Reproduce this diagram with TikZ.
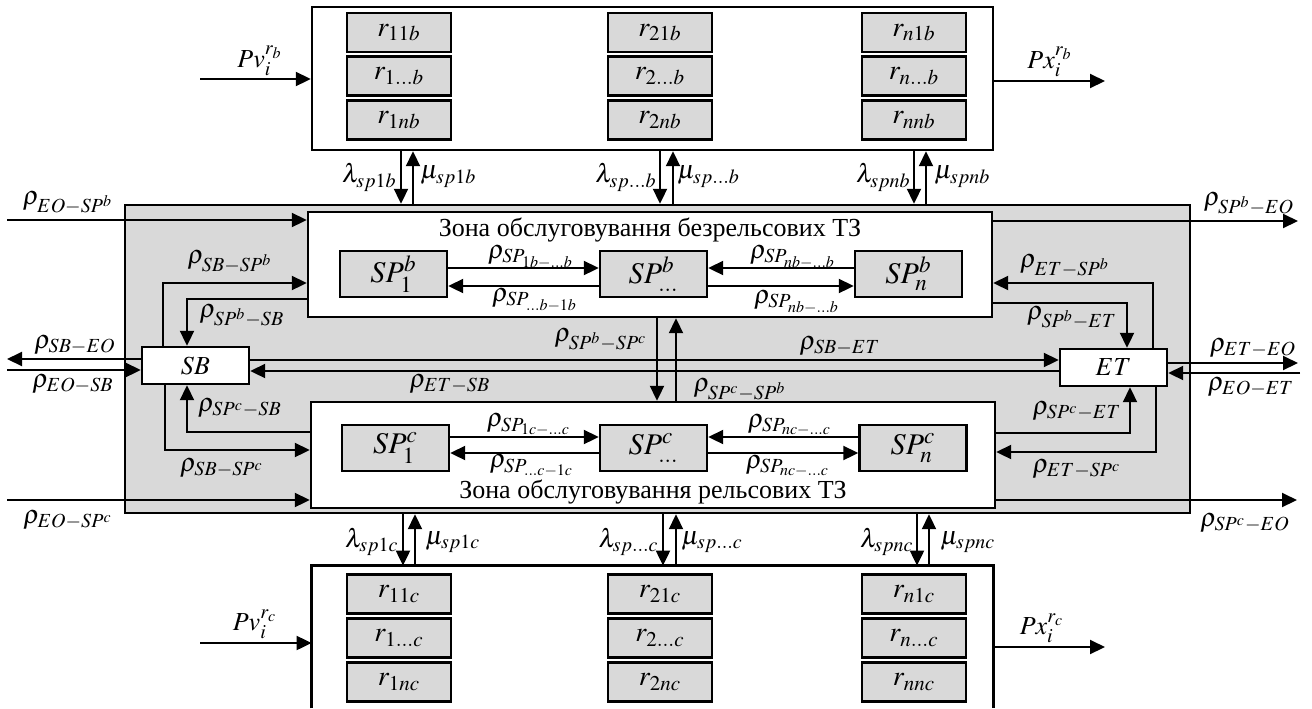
\documentclass[tikz,border=0pt]{standalone}
\usepackage{mathptmx}
\usepackage{fontspec}
\setmainfont{Liberation Serif}
\usetikzlibrary{arrows.meta,fit,calc}
\DeclareMathSizes{13}{13}{10}{8}
\DeclareMathSizes{14}{14}{10.5}{8}
\DeclareMathSizes{15}{15}{11.5}{9}
\definecolor{boxgray}{RGB}{217,217,217}
\tikzset{
  arr/.style={-{Triangle[length=7.5pt,width=7pt]}, line width=1pt},
  bigbox/.style={draw, line width=1.2pt, inner sep=0pt},
  rbox/.style={draw, line width=1.2pt, fill=boxgray, minimum width=52pt, minimum height=19.5pt, inner sep=0pt, font=\fontsize{14}{16}\selectfont},
  spbox/.style={draw, line width=1.2pt, fill=boxgray, minimum width=53.5pt, minimum height=23pt, inner sep=0pt, font=\fontsize{15}{17}\selectfont},
  wbox/.style={draw, line width=1.2pt, fill=white, minimum width=53.5pt, minimum height=18.5pt, inner sep=0pt, font=\fontsize{13}{15}\selectfont},
  lbl/.style={inner sep=0pt, font=\fontsize{13}{15}\selectfont},
}
\begin{document}
\begin{tikzpicture}[x=0.5pt,y=-0.5pt]
\useasboundingbox (0,0) rectangle (1312,708);
% top resource box
\node[bigbox, fit={(312,7)(993,150)}] (rb) {};
\foreach \c/\x in {1/399,2/660,n/914}{
  \node[rbox] (rb\c1) at (\x,32.5) {$r_{\c1b}$};
  \node[rbox] (rb\c m) at (\x,76) {$r_{\c\ldots b}$};
  \node[rbox] (rb\c n) at (\x,120) {$r_{\c nb}$};
}
% bottom resource box (open at bottom)
\node[inner sep=0pt, fit={(312,566)(993,708)}] (rc) {};
\draw[line width=1.2pt] (rc.south west) -- (rc.north west) -- (rc.north east) -- (rc.south east);
\foreach \c/\x in {1/399,2/660,n/914}{
  \node[rbox] (rc\c1) at (\x,594) {$r_{\c1c}$};
  \node[rbox] (rc\c m) at (\x,638) {$r_{\c\ldots c}$};
  \node[rbox] (rc\c n) at (\x,682) {$r_{\c nc}$};
}
% gray area
\node[bigbox, fill=boxgray, fit={(125,205)(1190,513)}] (gray) {};
% zones
\node[bigbox, fill=white, fit={(308,212)(992,317)}] (zb) {};
\node[bigbox, fill=white, fit={(311,402)(995,508)}] (zc) {};
\node[lbl] (zbt) at (650,230) {Зона обслуговування безрельсових ТЗ};
\node[lbl] (zct) at (653,492) {Зона обслуговування рельсових ТЗ};
% SP boxes
\node[spbox] (sp1b) at (393.5,274) {$SP_1^b$};
\node[spbox] (spmb) at (653.5,274) {$SP_{\ldots}^b$};
\node[spbox] (spnb) at (908.5,274) {$SP_n^b$};
\node[spbox] (sp1c) at (395.5,448) {$SP_1^c$};
\node[spbox] (spmc) at (653.5,448) {$SP_{\ldots}^c$};
\node[spbox] (spnc) at (913,448) {$SP_n^c$};
% SB, ET
\node[wbox] (sb) at (195.5,365.5) {$SB$};
\node[wbox] (et) at (1113.5,367.5) {$ET$};

% Pv / Px arrows
\coordinate (pvb) at (200,79);
\draw[arr] (pvb) -- (rb.west |- pvb);
\coordinate (pxb) at (1105,81);
\draw[arr] (rb.east |- pxb) -- (pxb);
\coordinate (pvc) at (200,643);
\draw[arr] (pvc) -- (rc.west |- pvc);
\coordinate (pxc) at (1105,647);
\draw[arr] (rc.east |- pxc) -- (pxc);
\node[lbl] at (260,61) {$Pv_i^{r_b}$};
\node[lbl] at (1050,62) {$Px_i^{r_b}$};
\node[lbl] at (255,624) {$Pv_i^{r_c}$};
\node[lbl] at (1042,628) {$Px_i^{r_c}$};

% lambda / mu top
\draw[arr] (rb.south -| 401,0) -- (gray.north -| 401,0);
\draw[arr] (gray.north -| 413,0) -- (rb.south -| 413,0);
\draw[arr] (rb.south -| 660,0) -- (gray.north -| 660,0);
\draw[arr] (gray.north -| 673,0) -- (rb.south -| 673,0);
\draw[arr] (rb.south -| 914,0) -- (gray.north -| 914,0);
\draw[arr] (gray.north -| 926,0) -- (rb.south -| 926,0);
\node[lbl, anchor=east] at (397,177) {$\lambda_{sp1b}$};
\node[lbl, anchor=west] at (420,177) {$\mu_{sp1b}$};
\node[lbl, anchor=east] at (657,177) {$\lambda_{sp\ldots b}$};
\node[lbl, anchor=west] at (677,177) {$\mu_{sp\ldots b}$};
\node[lbl, anchor=east] at (911,177) {$\lambda_{spnb}$};
\node[lbl, anchor=west] at (934,177) {$\mu_{spnb}$};
% lambda / mu bottom
\draw[arr] (gray.south -| 403,0) -- (rc.north -| 403,0);
\draw[arr] (rc.north -| 415,0) -- (gray.south -| 415,0);
\draw[arr] (gray.south -| 663,0) -- (rc.north -| 663,0);
\draw[arr] (rc.north -| 676,0) -- (gray.south -| 676,0);
\draw[arr] (gray.south -| 917,0) -- (rc.north -| 917,0);
\draw[arr] (rc.north -| 929,0) -- (gray.south -| 929,0);
\node[lbl, anchor=east] at (399,542) {$\lambda_{sp1c}$};
\node[lbl, anchor=west] at (425,542) {$\mu_{sp1c}$};
\node[lbl, anchor=east] at (659,542) {$\lambda_{sp\ldots c}$};
\node[lbl, anchor=west] at (681,542) {$\mu_{sp\ldots c}$};
\node[lbl, anchor=east] at (914,542) {$\lambda_{spnc}$};
\node[lbl, anchor=west] at (940,542) {$\mu_{spnc}$};

% SP internal arrows
\draw[arr] (sp1b.east |- 0,268) -- (spmb.west |- 0,268);
\draw[arr] (spmb.west |- 0,286) -- (sp1b.east |- 0,286);
\draw[arr] (spnb.west |- 0,268) -- (spmb.east |- 0,268);
\draw[arr] (spmb.east |- 0,286) -- (spnb.west |- 0,286);
\draw[arr] (sp1c.east |- 0,437) -- (spmc.west |- 0,437);
\draw[arr] (spmc.west |- 0,453) -- (sp1c.east |- 0,453);
\draw[arr] (spnc.west |- 0,437) -- (spmc.east |- 0,437);
\draw[arr] (spmc.east |- 0,453) -- (spnc.west |- 0,453);
\node[lbl] at (531,257) {$\rho_{SP_{1b-\ldots b}}$};
\node[lbl] at (535,300) {$\rho_{SP_{\ldots b-1b}}$};
\node[lbl] at (793,257) {$\rho_{SP_{nb-\ldots b}}$};
\node[lbl] at (797,302) {$\rho_{SP_{nb-\ldots b}}$};
\node[lbl] at (529,425) {$\rho_{SP_{1c-\ldots c}}$};
\node[lbl] at (532,466) {$\rho_{SP_{\ldots c-1c}}$};
\node[lbl] at (790,425) {$\rho_{SP_{nc-\ldots c}}$};
\node[lbl] at (788,466) {$\rho_{SP_{nc-\ldots c}}$};

% external flows
\coordinate (eospb) at (7,220);
\draw[arr] (eospb) -- (zb.west |- eospb);
\coordinate (spbeo) at (1298,221);
\draw[arr] (zb.east |- spbeo) -- (spbeo);
\coordinate (eospc) at (7,500);
\draw[arr] (eospc) -- (zc.west |- eospc);
\coordinate (spceo) at (1297,500);
\draw[arr] (zc.east |- spceo) -- (spceo);
\coordinate (sbeo) at (7,359);
\draw[arr] (sb.west |- sbeo) -- (sbeo);
\coordinate (eosb) at (7,370);
\draw[arr] (eosb) -- (sb.west |- eosb);
\coordinate (eteo) at (1298,363);
\draw[arr] (et.east |- eteo) -- (eteo);
\coordinate (eoet) at (1300,373);
\draw[arr] (eoet) -- (et.east |- eoet);
\node[lbl] at (68,203) {$\rho_{EO-SP^b}$};
\node[lbl] at (1249,204) {$\rho_{SP^b-EO}$};
\node[lbl] at (68,520) {$\rho_{EO-SP^c}$};
\node[lbl] at (1245,523) {$\rho_{SP^c-EO}$};
\node[lbl] at (75,345) {$\rho_{SB-EO}$};
\node[lbl] at (73,384) {$\rho_{EO-SB}$};
\node[lbl] at (1253,348) {$\rho_{ET-EO}$};
\node[lbl] at (1251,387) {$\rho_{EO-ET}$};

% SB <-> ET
\draw[arr] (sb.east |- 0,360) -- (et.west |- 0,360);
\draw[arr] (et.west |- 0,371) -- (sb.east |- 0,371);
\node[lbl] at (840,346) {$\rho_{SB-ET}$};
\node[lbl] at (450,384) {$\rho_{ET-SB}$};

% zone <-> zone
\draw[arr] (zb.south -| 657,0) -- (zc.north -| 657,0);
\draw[arr] (zc.north -| 676,0) -- (zb.south -| 676,0);
\node[lbl] at (601,340) {$\rho_{SP^b-SP^c}$};
\node[lbl] at (740,390) {$\rho_{SP^c-SP^b}$};

% SB <-> zones
\draw[arr] (sb.north -| 163,0) |- (zb.west |- 0,283);
\draw[arr] (zb.west |- 0,299) -| (sb.north -| 187,0);
\draw[arr] (zc.west |- 0,432) -| (sb.south -| 187,0);
\draw[arr] (sb.south -| 165,0) |- (zc.west |- 0,450);
\node[lbl] at (230,262) {$\rho_{SB-SP^b}$};
\node[lbl] at (242,316) {$\rho_{SP^b-SB}$};
\node[lbl] at (240,408) {$\rho_{SP^c-SB}$};
\node[lbl] at (222,468) {$\rho_{SB-SP^c}$};

% ET <-> zones
\draw[arr] (et.north -| 1153,0) |- (zb.east |- 0,283);
\draw[arr] (zb.east |- 0,303) -| (et.north -| 1127,0);
\draw[arr] (zc.east |- 0,433) -| (et.south -| 1130,0);
\draw[arr] (et.south -| 1156,0) |- (zc.east |- 0,452);
\node[lbl] at (1065,266) {$\rho_{ET-SP^b}$};
\node[lbl] at (1072,318) {$\rho_{SP^b-ET}$};
\node[lbl] at (1077,411) {$\rho_{SP^c-ET}$};
\node[lbl] at (1077,469) {$\rho_{ET-SP^c}$};
\end{tikzpicture}
\end{document}
